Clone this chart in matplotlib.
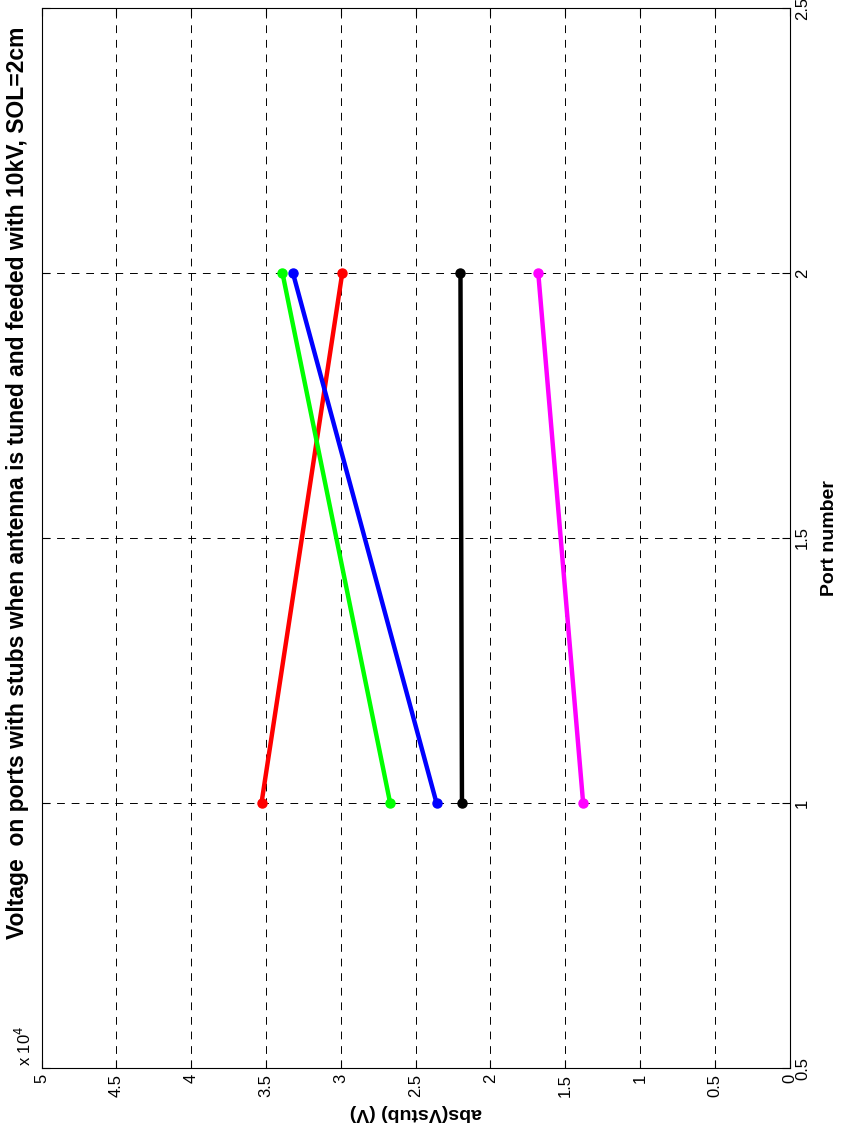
import numpy as np
import matplotlib
matplotlib.use('Agg')
import matplotlib.pyplot as plt

plt.rcParams['font.family'] = ['Liberation Sans', 'DejaVu Sans']

# port numbers and |Vstub| values (x 1e4 V)
ports = [1, 2]
v_red = [3.53, 2.99]
v_green = [2.67, 3.39]
v_blue = [2.36, 3.32]
v_black = [2.19, 2.20]
v_magenta = [1.38, 1.68]

vticks = np.arange(0, 5.01, 0.5)
vlabels = ['0', '0.5', '1', '1.5', '2', '2.5', '3', '3.5', '4', '4.5', '5']
pticks = [0.5, 1, 1.5, 2, 2.5]
plabels = ['0.5', '1', '1.5', '2', '2.5']

fig = plt.figure(figsize=(8.49, 11.35), dpi=100)
ax = fig.add_axes([0.049, 0.059, 0.881, 0.934])

# figure is drawn rotated 90 deg: voltage runs horizontally (reversed), port vertically
for v, c in zip([v_black, v_magenta, v_red, v_green, v_blue],
                ['k', '#ff00ff', '#ff0000', '#00ff00', '#0000ff']):
    ax.plot(v, ports, color=c, lw=3.2, marker='o', ms=6.5, mec=c, mfc=c)

ax.set_xlim(5, 0)
ax.set_ylim(0.5, 2.5)
ax.set_xticks(vticks)
ax.set_xticklabels(vlabels, rotation=90, fontsize=12)
ax.yaxis.tick_right()
ax.set_yticks(pticks)
ax.set_yticklabels(plabels, rotation=90, va='center', fontsize=12)
ax.tick_params(axis='both', direction='in', length=6, width=0.8,
               top=True, bottom=True, left=True, right=True, pad=4)
ax.grid(True, color='k', linestyle=(0, (8, 7)), linewidth=0.7)
for s in ax.spines.values():
    s.set_linewidth(0.8)

ax.set_xlabel('abs(Vstub) (V)', rotation=180, fontsize=14, fontweight='bold', labelpad=5)
ax.yaxis.set_label_position('right')
ax.set_ylabel('Port number', rotation=90, fontsize=14, fontweight='bold', labelpad=8)

fig.text(24 / 849, 1 - 1046 / 1135, r'x 10$^{4}$', rotation=90, fontsize=12,
         ha='center', va='center')
fig.text(18 / 849, 1 - 483 / 1135,
         'Voltage  on ports with stubs when antenna is tuned and feeded with 10kV, SOL=2cm',
         rotation=90, fontsize=16.5, fontweight='bold', ha='center', va='center')

fig.savefig('out.png', dpi=100)
